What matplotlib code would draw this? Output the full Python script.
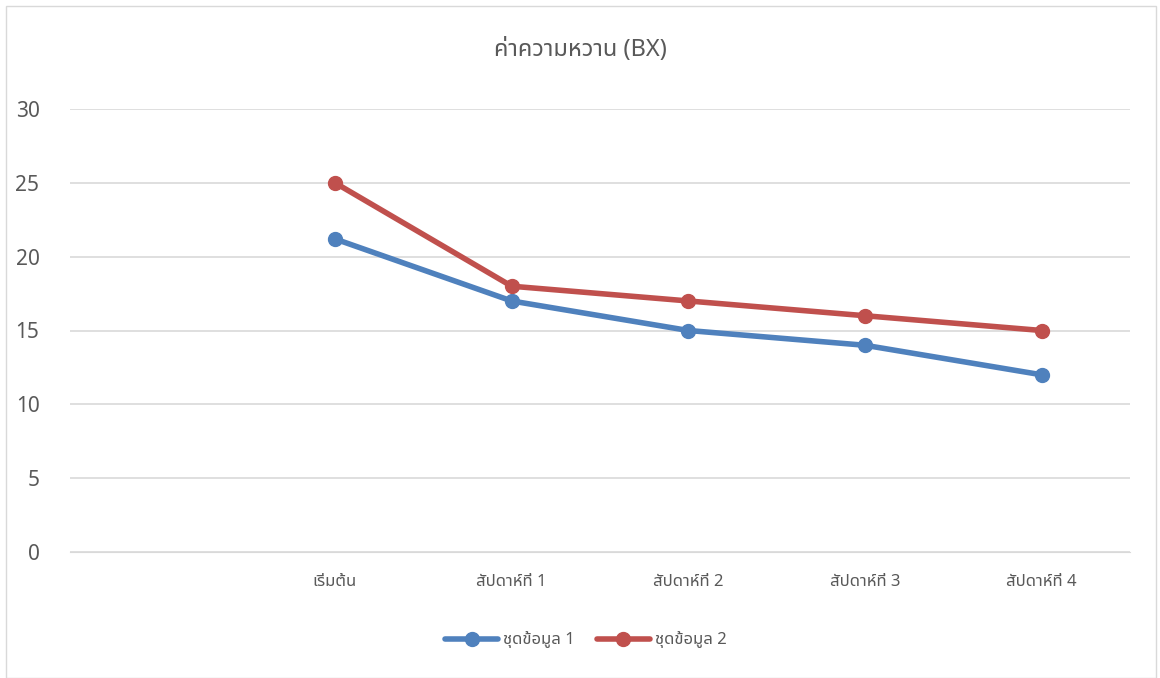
import matplotlib
matplotlib.use("Agg")
import matplotlib.pyplot as plt
from matplotlib.patches import Rectangle
from matplotlib import font_manager

categories = ["", "เริ่มต้น", "สัปดาห์ที่ 1", "สัปดาห์ที่ 2", "สัปดาห์ที่ 3", "สัปดาห์ที่ 4"]
series1 = [None, 21.2, 17, 15, 14, 12]
series2 = [None, 25, 18, 17, 16, 15]
series_names = ["ชุดข้อมูล 1", "ชุดข้อมูล 2"]
title = "ค่าความหวาน (BX)"
yticks = [0, 5, 10, 15, 20, 25, 30]

installed = {f.name for f in font_manager.fontManager.ttflist}
prefs = ["Noto Sans Thai", "Noto Sans Thai Looped", "Sarabun", "Anuphan", "Loma", "DejaVu Sans"]
fams = [f for f in prefs if f in installed] or ["DejaVu Sans"]
plt.rcParams['font.family'] = fams

W, H = 1160, 678
fig = plt.figure(figsize=(W/100, H/100), dpi=100)
fig.patches.append(Rectangle((6/W, 0), 1150/W, (H-6)/H, transform=fig.transFigure,
                             fill=False, edgecolor="#d9d9d9", linewidth=1))

ax = fig.add_axes([70/W, 1-552/H, 1060/W, (552-109)/H])
x = list(range(len(categories)))
xs1 = [i for i, v in zip(x, series1) if v is not None]
ys1 = [v for v in series1 if v is not None]
xs2 = [i for i, v in zip(x, series2) if v is not None]
ys2 = [v for v in series2 if v is not None]
ax.plot(xs1, ys1, color="#4f81bd", lw=4, marker="o", ms=10, label=series_names[0], solid_capstyle="round")
ax.plot(xs2, ys2, color="#c0504d", lw=4, marker="o", ms=10, label=series_names[1], solid_capstyle="round")

ax.set_xlim(-0.5, len(categories)-0.5)
ax.set_ylim(0, 30)
ax.set_yticks(yticks)
ax.set_xticks(x)
ax.set_xticklabels(categories)
ax.grid(axis="y", color="#d9d9d9", lw=1.2)
ax.set_axisbelow(True)
for s in ["top", "right", "left"]:
    ax.spines[s].set_visible(False)
ax.spines["bottom"].set_color("#d9d9d9")
ax.tick_params(axis="y", length=0, labelsize=15, labelcolor="#595959", pad=22)
ax.tick_params(axis="x", length=0, labelsize=12, labelcolor="#595959", pad=16)

fig.text(580/W, 1-50/H, title, ha="center", va="center", fontsize=17, color="#595959")
fig.legend(loc="center", bbox_to_anchor=(586/W, 1-640/H), ncol=2, frameon=False,
           fontsize=12, labelcolor="#595959", handlelength=3.2, columnspacing=1.3, handletextpad=0.3)

fig.savefig("out.png", dpi=100, facecolor="white")
